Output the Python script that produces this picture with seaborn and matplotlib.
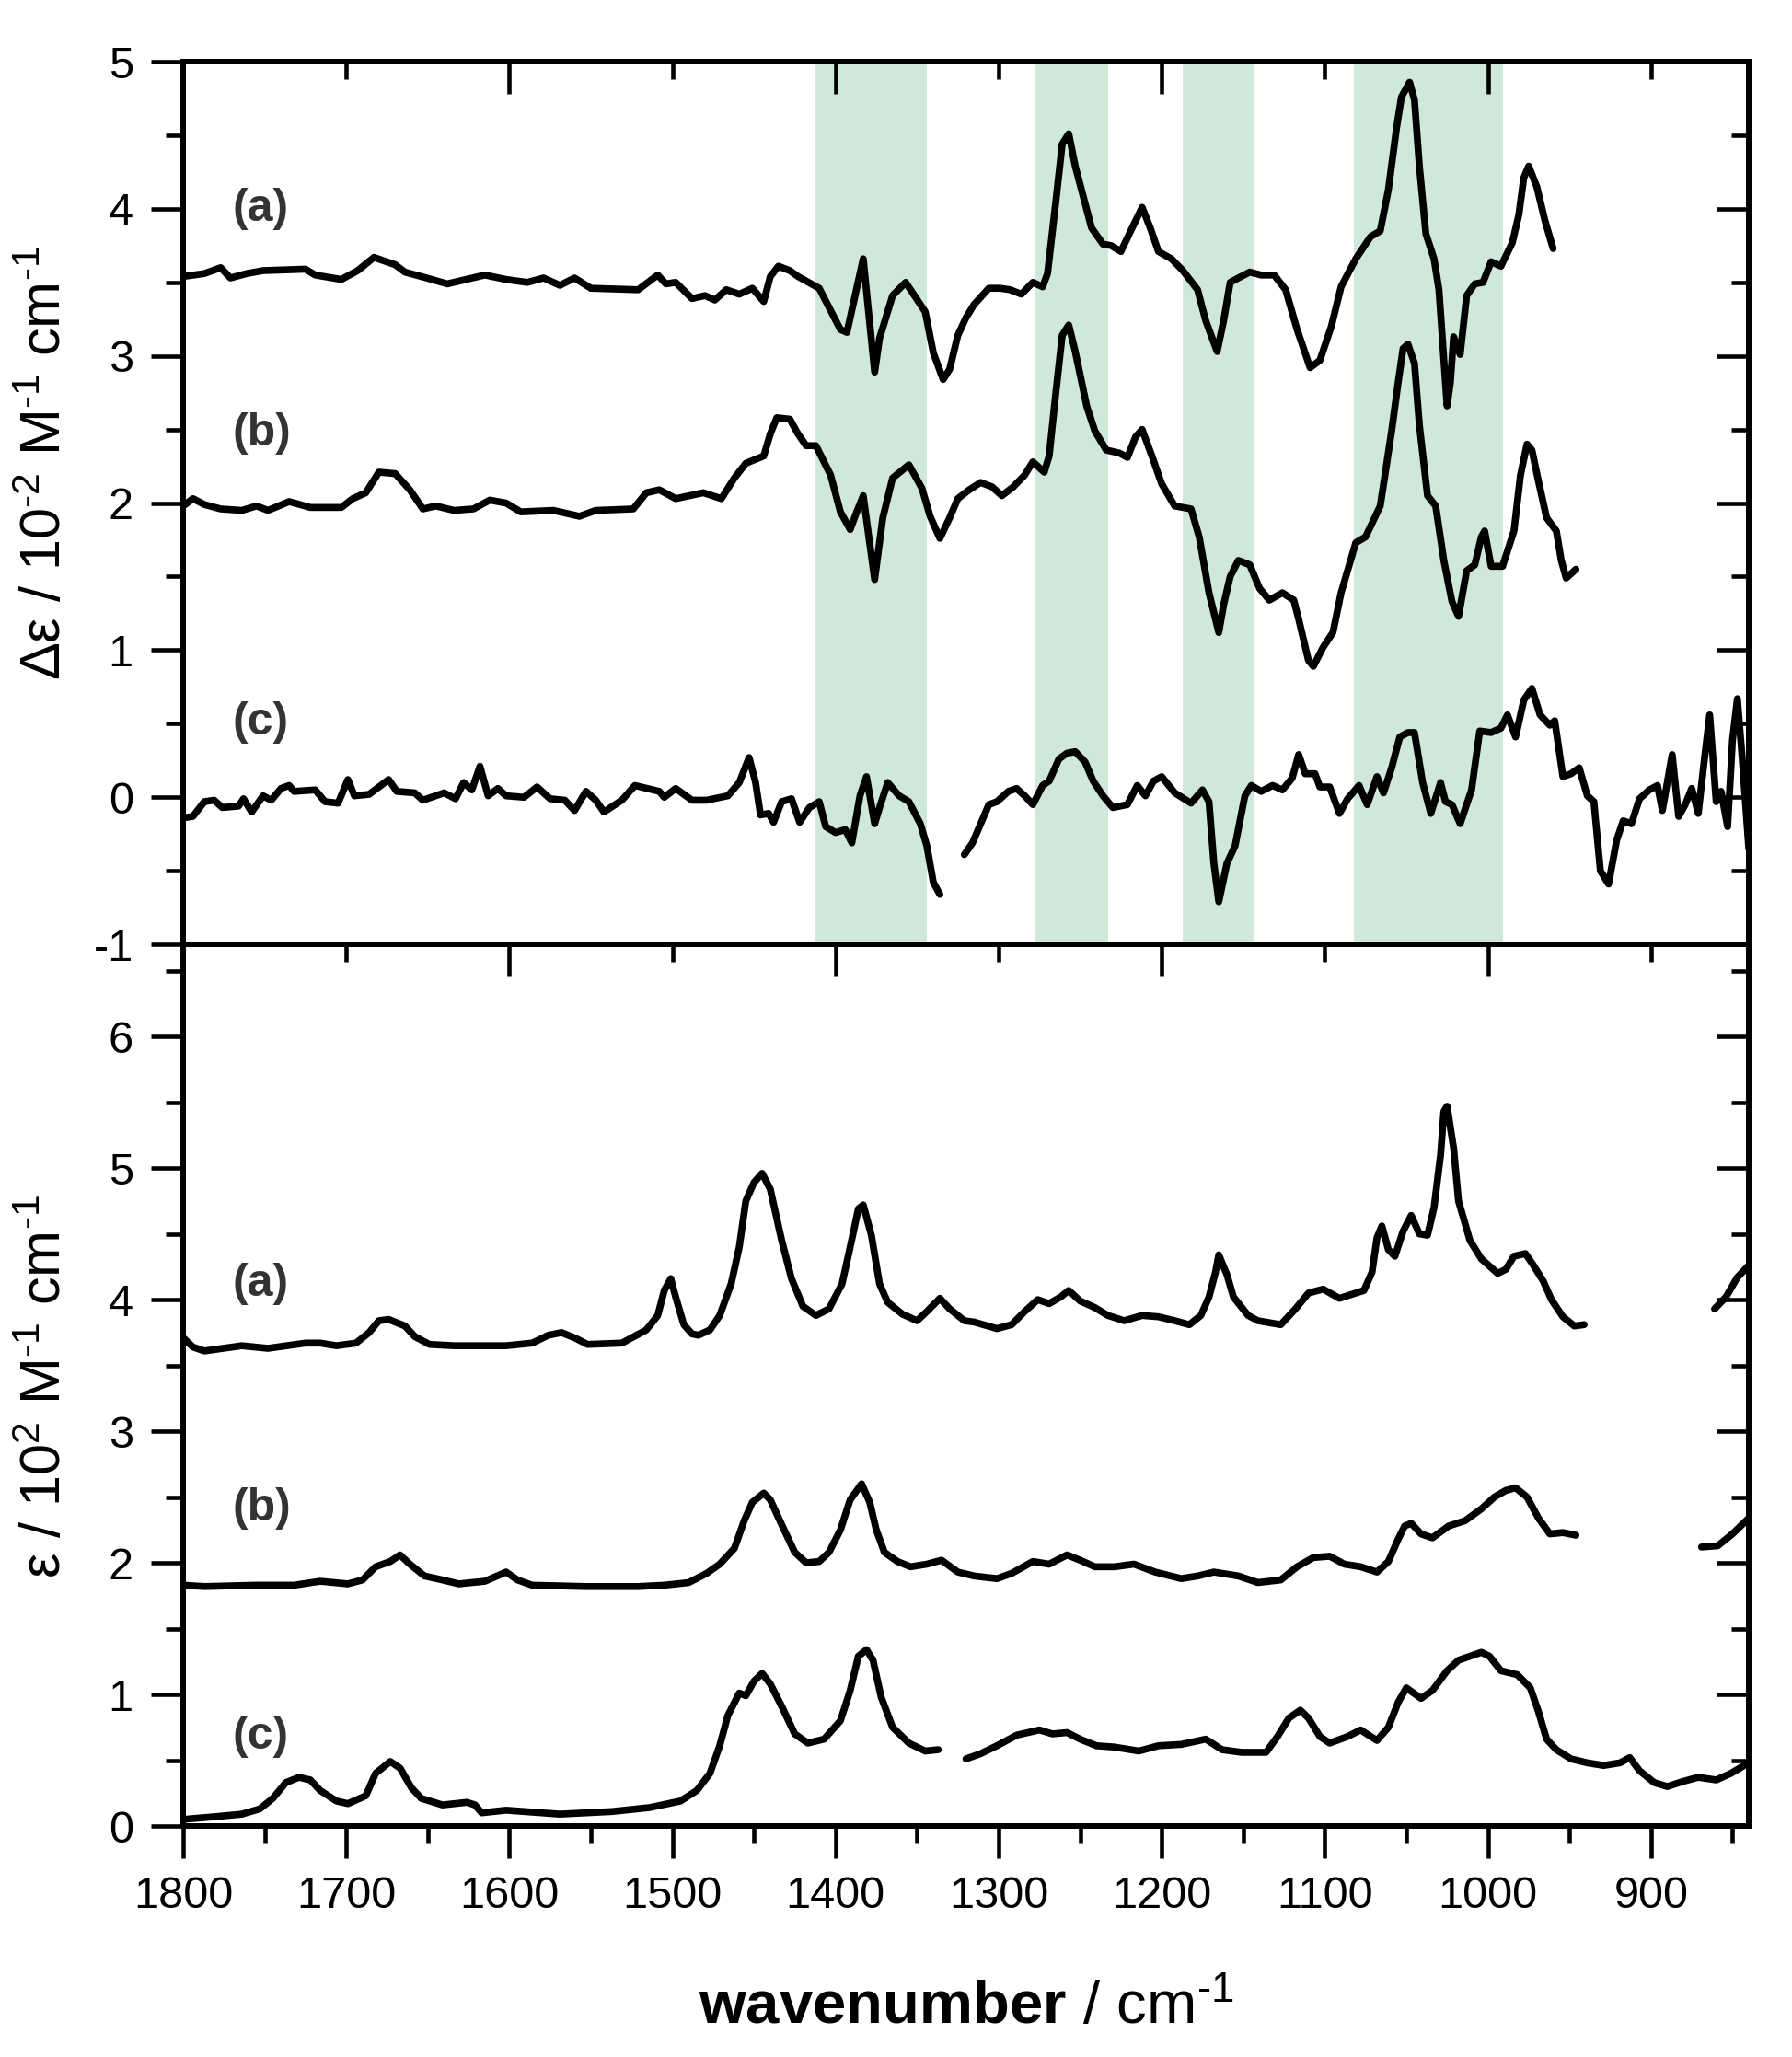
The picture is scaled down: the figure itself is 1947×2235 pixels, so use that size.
import matplotlib
matplotlib.use('Agg')
import matplotlib.pyplot as plt
from matplotlib.ticker import MultipleLocator
import pandas as pd
import seaborn as sns

# wavenumber (cm-1), value ; None marks a gap in the trace
top_a = [(1800,3.54),(1787,3.56),(1777,3.60),(1771,3.53),(1761,3.56),(1751,3.58),(1725,3.59),(1719,3.55),(1703,3.52),(1693,3.58),(1683,3.67),(1670,3.62),(1664,3.57),(1654,3.54),(1638,3.49),(1615,3.55),(1602,3.52),(1589,3.50),(1579,3.53),(1569,3.48),(1560,3.53),(1550,3.46),(1521,3.45),(1509,3.55),(1504,3.49),(1498,3.50),(1488,3.39),(1480,3.41),(1474,3.38),(1467,3.45),(1459,3.42),(1451,3.46),(1444,3.37),(1440,3.54),(1435,3.61),(1428,3.58),(1423,3.54),(1410,3.46),(1397,3.18),(1393,3.16),(1388,3.41),(1383,3.66),(1376,2.89),(1373,3.12),(1365,3.41),(1357,3.50),(1345,3.30),(1340,3.02),(1334,2.84),(1330,2.91),(1325,3.14),(1320,3.26),(1315,3.35),(1306,3.46),(1299,3.46),(1293,3.45),(1286,3.42),(1279,3.50),(1273,3.47),(1270,3.56),(1265,4.04),(1261,4.44),(1257,4.51),(1253,4.29),(1248,4.08),(1243,3.87),(1236,3.76),(1231,3.75),(1225,3.71),(1219,3.85),(1212,4.01),(1207,3.87),(1202,3.71),(1194,3.66),(1187,3.58),(1178,3.45),(1173,3.24),(1166,3.03),(1162,3.24),(1158,3.50),(1153,3.53),(1146,3.57),(1139,3.55),(1131,3.55),(1124,3.45),(1117,3.18),(1109,2.92),(1103,2.97),(1096,3.20),(1090,3.47),(1081,3.66),(1072,3.81),(1066,3.85),(1061,4.13),(1056,4.55),(1053,4.76),(1048,4.86),(1045,4.74),(1042,4.29),(1038,3.83),(1033,3.66),(1030,3.45),(1025,2.66),(1023,2.82),(1021,3.13),(1017,3.01),(1013,3.41),(1008,3.49),(1003,3.50),(998,3.64),(992,3.61),(985,3.77),(981,3.96),(978,4.21),(975,4.29),(970,4.15),(965,3.92),(960,3.73)]

top_b = [(1800,1.98),(1794,2.03),(1787,1.99),(1777,1.96),(1764,1.95),(1755,1.98),(1748,1.95),(1735,2.01),(1722,1.97),(1703,1.97),(1696,2.03),(1688,2.07),(1680,2.21),(1670,2.20),(1661,2.09),(1653,1.96),(1645,1.98),(1634,1.95),(1622,1.96),(1612,2.02),(1602,2.00),(1593,1.94),(1573,1.95),(1557,1.91),(1547,1.95),(1524,1.96),(1516,2.07),(1508,2.09),(1498,2.03),(1481,2.07),(1470,2.03),(1462,2.17),(1455,2.27),(1444,2.32),(1440,2.47),(1436,2.58),(1428,2.57),(1423,2.47),(1418,2.39),(1412,2.39),(1403,2.19),(1397,1.94),(1391,1.82),(1387,1.94),(1383,2.05),(1376,1.48),(1371,1.90),(1365,2.17),(1355,2.26),(1347,2.10),(1342,1.91),(1336,1.76),(1330,1.90),(1325,2.03),(1318,2.09),(1311,2.14),(1304,2.11),(1298,2.05),(1291,2.11),(1284,2.19),(1279,2.28),(1272,2.21),(1269,2.32),(1265,2.74),(1261,3.14),(1257,3.21),(1253,3.03),(1246,2.66),(1241,2.49),(1234,2.36),(1226,2.34),(1221,2.31),(1216,2.45),(1212,2.50),(1206,2.32),(1200,2.13),(1192,1.98),(1182,1.96),(1177,1.77),(1171,1.39),(1165,1.12),(1162,1.31),(1158,1.50),(1153,1.61),(1146,1.58),(1140,1.42),(1134,1.34),(1126,1.39),(1119,1.34),(1116,1.21),(1110,0.93),(1107,0.89),(1101,1.02),(1095,1.12),(1090,1.39),(1081,1.73),(1075,1.77),(1066,1.98),(1059,2.49),(1055,2.82),(1052,3.05),(1049,3.08),(1045,2.95),(1042,2.53),(1037,2.05),(1032,1.98),(1027,1.61),(1022,1.33),(1018,1.23),(1013,1.54),(1008,1.58),(1004,1.77),(1002,1.81),(998,1.57),(991,1.57),(984,1.81),(980,2.19),(976,2.40),(973,2.36),(969,2.15),(964,1.90),(958,1.81),(955,1.61),(952,1.49),(946,1.55)]

top_c = [(1800,-0.14),(1794,-0.13),(1787,-0.03),(1781,-0.02),(1776,-0.07),(1766,-0.06),(1763,-0.01),(1758,-0.10),(1751,0.01),(1746,-0.02),(1740,0.06),(1735,0.08),(1732,0.04),(1719,0.05),(1713,-0.03),(1705,-0.04),(1699,0.12),(1695,0.01),(1686,0.02),(1680,0.07),(1674,0.12),(1669,0.04),(1658,0.03),(1653,-0.02),(1640,0.03),(1633,-0.01),(1628,0.10),(1623,0.05),(1618,0.21),(1613,0.01),(1607,0.06),(1602,0.01),(1591,0.00),(1583,0.07),(1575,-0.01),(1566,-0.02),(1560,-0.09),(1553,0.04),(1547,-0.02),(1542,-0.10),(1531,-0.02),(1523,0.08),(1508,0.04),(1505,0.00),(1498,0.06),(1488,-0.02),(1479,-0.02),(1466,0.01),(1459,0.10),(1453,0.27),(1449,0.10),(1446,-0.12),(1441,-0.11),(1438,-0.17),(1433,-0.03),(1427,-0.01),(1422,-0.17),(1416,-0.07),(1410,-0.03),(1406,-0.20),(1400,-0.24),(1394,-0.22),(1390,-0.31),(1385,0.01),(1381,0.14),(1376,-0.18),(1373,-0.07),(1368,0.10),(1361,0.01),(1355,-0.03),(1348,-0.18),(1344,-0.33),(1340,-0.58),(1336,-0.66),
         None,
         (1321,-0.39),(1316,-0.31),(1311,-0.18),(1306,-0.05),(1301,-0.03),(1294,0.04),(1289,0.06),(1284,0.01),(1279,-0.05),(1273,0.08),(1269,0.11),(1263,0.26),(1258,0.30),(1253,0.31),(1247,0.24),(1242,0.11),(1236,0.01),(1230,-0.07),(1221,-0.05),(1215,0.08),(1210,0.01),(1205,0.11),(1200,0.14),(1192,0.03),(1182,-0.04),(1175,0.05),(1171,-0.03),(1168,-0.45),(1165,-0.71),(1160,-0.45),(1155,-0.33),(1149,0.01),(1145,0.08),(1139,0.04),(1132,0.08),(1126,0.05),(1120,0.13),(1116,0.29),(1112,0.16),(1106,0.16),(1103,0.07),(1097,0.07),(1091,-0.11),(1086,-0.01),(1079,0.08),(1074,-0.05),(1068,0.14),(1064,0.03),(1059,0.20),(1054,0.41),(1049,0.44),(1045,0.44),(1040,0.10),(1035,-0.11),(1029,0.10),(1026,-0.03),(1022,-0.05),(1017,-0.18),(1010,0.05),(1005,0.45),(998,0.44),(992,0.47),(988,0.56),(983,0.41),(978,0.66),(973,0.74),(968,0.56),(962,0.49),(959,0.52),(954,0.14),(949,0.16),(944,0.20),(939,0.01),(935,-0.03),(931,-0.50),(926,-0.59),(921,-0.29),(917,-0.16),(912,-0.18),(907,-0.01),(901,0.05),(896,0.08),(893,-0.09),(887,0.29),(883,-0.13),(879,-0.05),(875,0.06),(871,-0.11),(867,0.28),(864,0.56),(860,-0.03),(857,0.04),(853,-0.20),(850,0.39),(847,0.67),(844,0.26),(840,-0.35)]

bot_a = [(1800,3.71),(1794,3.64),(1787,3.61),(1764,3.65),(1748,3.63),(1725,3.67),(1716,3.67),(1706,3.65),(1694,3.67),(1686,3.75),(1680,3.84),(1674,3.85),(1664,3.80),(1658,3.72),(1649,3.66),(1634,3.65),(1602,3.65),(1586,3.67),(1576,3.73),(1568,3.75),(1560,3.71),(1552,3.66),(1531,3.67),(1516,3.77),(1509,3.88),(1505,4.07),(1501,4.16),(1498,4.02),(1493,3.81),(1488,3.74),(1484,3.73),(1477,3.77),(1471,3.88),(1464,4.12),(1459,4.40),(1455,4.75),(1450,4.89),(1445,4.96),(1440,4.84),(1433,4.45),(1427,4.16),(1420,3.95),(1412,3.88),(1404,3.93),(1396,4.12),(1391,4.40),(1386,4.69),(1383,4.72),(1378,4.49),(1373,4.12),(1368,3.98),(1359,3.89),(1350,3.84),(1344,3.91),(1336,4.01),(1330,3.93),(1321,3.84),(1315,3.83),(1301,3.78),(1292,3.81),(1284,3.91),(1276,4.00),(1269,3.97),(1262,4.02),(1257,4.07),(1250,3.99),(1241,3.94),(1233,3.88),(1223,3.84),(1212,3.88),(1202,3.87),(1192,3.84),(1183,3.81),(1176,3.88),(1171,4.02),(1167,4.21),(1165,4.34),(1160,4.19),(1156,4.02),(1147,3.88),(1141,3.84),(1127,3.81),(1118,3.93),(1110,4.05),(1101,4.08),(1091,4.01),(1076,4.07),(1071,4.21),(1068,4.47),(1065,4.56),(1061,4.38),(1057,4.33),(1052,4.52),(1047,4.64),(1042,4.50),(1037,4.49),(1033,4.70),(1029,5.10),(1027,5.43),(1025,5.47),(1021,5.15),(1018,4.75),(1011,4.45),(1004,4.31),(994,4.20),(989,4.23),(984,4.33),(977,4.35),(972,4.26),(966,4.14),(961,4.00),(954,3.87),(947,3.80),(941,3.81),
         None,
         (861,3.93),(854,4.02),(847,4.17),(840,4.26)]

bot_b = [(1800,1.83),(1787,1.82),(1755,1.83),(1732,1.83),(1716,1.86),(1699,1.84),(1690,1.87),(1682,1.97),(1673,2.01),(1667,2.06),(1661,1.99),(1652,1.90),(1641,1.87),(1631,1.84),(1615,1.86),(1602,1.93),(1595,1.87),(1586,1.83),(1553,1.82),(1521,1.82),(1505,1.83),(1490,1.85),(1479,1.92),(1471,1.99),(1462,2.11),(1456,2.32),(1451,2.46),(1444,2.53),(1440,2.48),(1433,2.29),(1425,2.08),(1418,2.00),(1410,2.01),(1404,2.08),(1397,2.25),(1391,2.48),(1384,2.60),(1379,2.46),(1375,2.25),(1370,2.08),(1362,2.01),(1354,1.97),(1344,1.99),(1335,2.02),(1325,1.93),(1315,1.90),(1301,1.88),(1292,1.92),(1279,2.01),(1269,1.99),(1258,2.06),(1250,2.02),(1241,1.97),(1229,1.97),(1217,1.99),(1204,1.93),(1188,1.88),(1178,1.90),(1168,1.93),(1153,1.90),(1141,1.85),(1127,1.87),(1117,1.97),(1107,2.04),(1097,2.05),(1088,1.99),(1078,1.97),(1068,1.93),(1061,2.01),(1055,2.18),(1051,2.28),(1047,2.30),(1041,2.22),(1034,2.19),(1024,2.28),(1014,2.32),(1004,2.41),(996,2.50),(989,2.55),(983,2.57),(976,2.50),(969,2.34),(962,2.22),(954,2.23),(946,2.21),
         None,
         (869,2.12),(859,2.13),(850,2.22),(840,2.34)]

bot_c = [(1800,0.05),(1781,0.07),(1764,0.09),(1753,0.13),(1745,0.21),(1737,0.33),(1729,0.37),(1722,0.35),(1716,0.27),(1706,0.19),(1699,0.17),(1688,0.23),(1682,0.40),(1673,0.49),(1667,0.44),(1660,0.29),(1654,0.21),(1641,0.16),(1626,0.18),(1621,0.16),(1617,0.10),(1602,0.12),(1569,0.09),(1537,0.11),(1514,0.14),(1495,0.19),(1485,0.27),(1477,0.40),(1471,0.61),(1466,0.84),(1459,1.01),(1455,0.99),(1450,1.10),(1445,1.16),(1440,1.08),(1433,0.91),(1425,0.70),(1417,0.63),(1407,0.66),(1397,0.80),(1391,1.03),(1386,1.29),(1381,1.34),(1377,1.26),(1372,0.98),(1365,0.75),(1355,0.63),(1345,0.57),(1337,0.58),
         None,
         (1320,0.51),(1311,0.55),(1301,0.61),(1289,0.69),(1275,0.73),(1267,0.70),(1258,0.71),(1250,0.66),(1240,0.61),(1229,0.60),(1214,0.57),(1202,0.61),(1188,0.62),(1173,0.66),(1163,0.58),(1151,0.56),(1136,0.56),(1129,0.68),(1122,0.82),(1115,0.88),(1110,0.82),(1103,0.68),(1097,0.63),(1086,0.68),(1078,0.73),(1068,0.65),(1061,0.75),(1055,0.94),(1050,1.05),(1041,0.97),(1034,1.03),(1025,1.18),(1018,1.26),(1011,1.29),(1004,1.32),(999,1.29),(992,1.18),(982,1.15),(974,1.05),(969,0.87),(964,0.66),(958,0.58),(949,0.51),(939,0.48),(929,0.46),(919,0.48),(913,0.52),(907,0.42),(898,0.33),(890,0.30),(880,0.34),(871,0.37),(860,0.35),(851,0.40),(840,0.48)]

# highlighted regions (from, to) in cm-1
bands = [(1413, 1344), (1278, 1233), (1187, 1143), (1082, 991)]

# trace labels: (text, y position)
top_labels = [('(a)', 4.0), ('(b)', 2.47), ('(c)', 0.51)]
bot_labels = [('(a)', 4.12), ('(b)', 2.41), ('(c)', 0.68)]


def to_frame(traces):
    rows = []
    for name, pairs in traces.items():
        seg = 0
        for p in pairs:
            if p is None:
                seg += 1
                continue
            rows.append((f'{name}_{seg}', p[0], p[1]))
    return pd.DataFrame(rows, columns=['unit', 'wn', 'val'])


sns.set_style('ticks')
plt.rcParams['font.family'] = ['Liberation Sans', 'DejaVu Sans']
plt.rcParams['mathtext.fontset'] = 'custom'
plt.rcParams['mathtext.rm'] = 'Liberation Sans'
plt.rcParams['mathtext.it'] = 'Liberation Sans:italic'
plt.rcParams['mathtext.bf'] = 'Liberation Sans:bold'
plt.rcParams['axes.unicode_minus'] = False
for key in ('text.color', 'axes.labelcolor', 'xtick.color', 'ytick.color', 'axes.edgecolor'):
    plt.rcParams[key] = 'black'

LW = 5.5
SPINE = 4.3
MAJ, MIN, TW = 25, 13.5, 3.3
TICK_FS = 35

fig = plt.figure(figsize=(19.47, 22.35), dpi=100)
ax1 = fig.add_axes([0.1022, 0.5409, 0.8737, 0.4291])
ax2 = fig.add_axes([0.1022, 0.1123, 0.8737, 0.4286])
ax1.set_zorder(3)

top_df = to_frame({'a': top_a, 'b': top_b, 'c': top_c})
bot_df = to_frame({'a': bot_a, 'b': bot_b, 'c': bot_c})

for lo_hi in bands:
    ax1.axvspan(lo_hi[0], lo_hi[1], color='#cfe8d9', lw=0, zorder=0)

for ax, df in ((ax1, top_df), (ax2, bot_df)):
    sns.lineplot(data=df, x='wn', y='val', units='unit', estimator=None,
                 sort=False, color='black', lw=LW, ax=ax, legend=False,
                 solid_joinstyle='round', solid_capstyle='round')
    ax.set_xlim(1800, 840)
    ax.set_xlabel('')
    ax.set_ylabel('')
    for sp in ax.spines.values():
        sp.set_linewidth(SPINE)
        sp.set_visible(True)
    ax.yaxis.set_major_locator(MultipleLocator(1))
    ax.yaxis.set_minor_locator(MultipleLocator(0.5))
    ax.tick_params(axis='both', which='major', direction='out', length=MAJ,
                   width=TW, labelsize=TICK_FS, color='black', labelcolor='black')
    ax.tick_params(axis='both', which='minor', direction='out', length=MIN,
                   width=TW, color='black')
    ax.tick_params(axis='y', which='both', left=True, right=False, pad=14)
    ax.tick_params(axis='x', which='both', top=False, pad=14)
    sec = ax.secondary_yaxis('right')
    sec.yaxis.set_major_locator(MultipleLocator(1))
    sec.yaxis.set_minor_locator(MultipleLocator(0.5))
    sec.tick_params(axis='y', which='major', direction='in', length=MAJ, width=TW, labelright=False)
    sec.tick_params(axis='y', which='minor', direction='in', length=MIN, width=TW)
    sec.spines['right'].set_linewidth(SPINE)

ax1.set_ylim(-1, 5)
ax2.set_ylim(0, 6.7)

ax1.xaxis.set_major_locator(MultipleLocator(200))
ax1.xaxis.set_minor_locator(MultipleLocator(100))
ax1.tick_params(axis='x', which='both', labelbottom=False)
sec_top = ax1.secondary_xaxis('top')
sec_top.xaxis.set_major_locator(MultipleLocator(200))
sec_top.xaxis.set_minor_locator(MultipleLocator(100))
sec_top.tick_params(axis='x', which='major', direction='in', length=MAJ, width=TW, labeltop=False)
sec_top.tick_params(axis='x', which='minor', direction='in', length=MIN, width=TW)
sec_top.spines['top'].set_linewidth(SPINE)

ax2.xaxis.set_major_locator(MultipleLocator(100))
ax2.xaxis.set_minor_locator(MultipleLocator(50))

for ax, labels in ((ax1, top_labels), (ax2, bot_labels)):
    for txt, yv in labels:
        ax.text(1770, yv, txt, fontsize=36, fontweight='bold', color='#333333',
                ha='left', va='center')

fig.text(0.026, 0.775, r'Δε / 10$^{\text{-2}}$ M$^{\text{-1}}$ cm$^{\text{-1}}$', rotation=90,
         fontsize=44, ha='center', va='center')
fig.text(0.026, 0.326, r'ε / 10$^{2}$ M$^{\text{-1}}$ cm$^{\text{-1}}$', rotation=90,
         fontsize=44, ha='center', va='center')
fig.text(0.539, 0.0157, r'$\mathbf{wavenumber}$ / cm$^{\text{-1}}$', fontsize=47,
         ha='center', va='baseline')

fig.savefig('out.png', dpi=100)
